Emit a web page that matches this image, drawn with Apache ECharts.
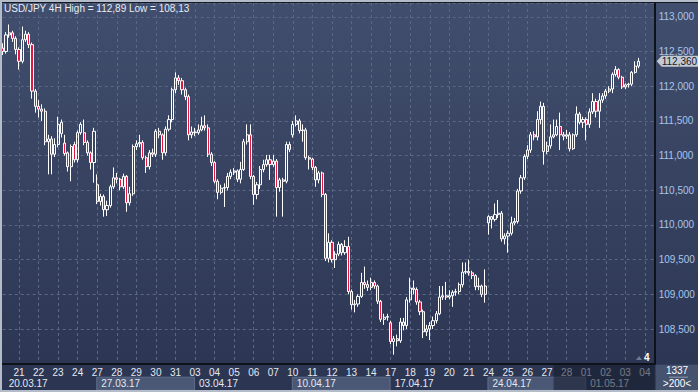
<!DOCTYPE html>
<html><head><meta charset="utf-8">
<script src="https://cdn.jsdelivr.net/npm/echarts@6/dist/echarts.min.js"></script>
<style>html,body{margin:0;padding:0;background:#2c3653;overflow:hidden}#c{width:698px;height:392px}</style>
</head><body><div id="c"></div><script>
// ---- data ----
const days = ['20','21','22','23','24','27','28','29','30','31','03','04','05','06','07','10','11','12','13','14','17','18','19','20','21','24','25','26','27','28','01','02','03','04'];
const weekLabels = ['20.03.17','27.03.17','03.04.17','10.04.17','17.04.17','24.04.17','01.05.17'];
const weekStartDay = [0,5,10,15,20,25,30];
const opens = [112.55,112.50,112.74,112.77,112.69,112.53,112.36,112.67,112.75,112.60,111.93,111.71,111.67,111.64,111.20,111.24,111.02,111.16,111.32,111.18,111.04,110.84,111.16,110.94,111.33,111.33,111.19,111.04,110.90,
110.58,110.34,110.41,110.22,110.28,110.55,110.68,110.66,110.55,110.70,110.32,110.45,111.13,111.17,111.19,110.97,110.84,111.04,111.02,111.35,111.30,111.04,111.38,111.52,111.95,112.12,112.08,111.95,111.85,111.30,
111.34,111.33,111.37,111.43,111.40,111.02,110.90,110.63,110.47,110.53,110.54,110.70,110.76,110.78,110.66,110.80,111.20,111.30,110.70,110.44,110.58,110.80,110.87,110.94,110.87,110.92,110.54,110.65,110.63,111.16,
111.30,111.45,111.50,111.36,111.37,110.97,110.95,110.83,110.65,110.75,110.44,109.52,109.75,109.50,109.58,109.72,109.60,109.69,109.04,108.85,108.86,108.97,109.17,109.14,109.10,109.17,109.12,108.90,108.64,108.67,
108.59,108.32,108.36,108.33,108.60,108.55,108.92,109.09,109.07,108.89,108.75,108.46,108.50,108.55,108.62,108.72,108.96,108.98,108.96,108.98,109.03,109.04,109.14,109.32,109.33,109.31,109.27,109.11,109.12,109.00,
110.03,110.12,110.08,110.15,110.17,109.80,109.84,109.88,110.03,110.05,110.49,110.68,110.99,111.08,111.30,111.27,111.52,111.71,111.06,111.14,111.27,111.30,111.42,111.30,111.28,111.30,111.10,111.30,111.60,111.48,
111.52,111.45,111.63,111.78,111.64,111.80,111.86,111.93,111.96,112.17,112.24,112.13,111.99,112.02,112.03,112.20,112.29];
const closes = [112.50,112.74,112.77,112.69,112.53,112.36,112.67,112.75,112.60,111.93,111.71,111.67,111.64,111.20,111.24,111.02,111.16,111.45,111.48,111.03,110.84,111.13,110.94,111.33,111.45,111.19,111.04,110.90,111.35,
110.34,110.41,110.22,110.28,110.55,110.68,110.66,110.55,110.70,110.32,110.45,111.13,111.17,111.19,110.97,110.84,111.04,111.02,111.35,111.30,111.04,111.38,111.52,111.95,112.12,112.08,111.95,111.85,111.30,111.34,
111.33,111.37,111.43,111.40,111.02,110.90,110.63,110.47,110.53,110.54,110.70,110.76,110.78,110.66,110.80,111.20,111.30,110.70,110.44,110.58,110.80,110.87,110.94,110.87,110.92,110.54,110.65,110.63,111.16,111.09,
111.45,111.50,111.36,111.37,110.97,110.95,110.83,110.65,110.75,110.44,109.52,109.75,109.50,109.58,109.72,109.60,109.69,109.04,108.85,108.86,108.97,109.17,109.14,109.10,109.17,109.12,108.90,108.64,108.67,108.68,
108.32,108.36,108.33,108.60,108.55,108.92,109.09,109.07,108.89,108.75,108.46,108.50,108.55,108.62,108.72,108.96,108.98,108.96,108.98,109.03,109.04,109.14,109.32,109.33,109.31,109.27,109.11,109.12,109.00,109.12,
110.12,110.08,110.15,110.17,109.80,109.84,109.88,110.03,110.05,110.49,110.68,110.99,111.08,111.30,111.27,111.52,111.71,111.06,111.14,111.27,111.30,111.42,111.30,111.28,111.30,111.10,111.30,111.60,111.48,111.52,
111.45,111.63,111.78,111.64,111.80,111.86,111.93,111.96,112.17,112.24,112.13,111.99,112.02,112.03,112.20,112.29,112.36];
const lows = [112.45,112.47,112.70,112.64,112.46,112.24,112.33,112.64,112.55,111.82,111.62,111.55,111.50,111.15,110.73,110.73,110.98,111.12,111.26,111.00,110.77,110.63,110.90,110.90,111.30,111.15,111.00,110.80,110.61,
110.30,110.28,110.12,110.13,110.25,110.52,110.60,110.50,110.52,110.19,110.28,110.42,111.08,111.12,110.94,110.75,110.80,110.98,110.98,111.25,110.94,111.00,111.35,111.48,111.90,112.02,111.88,111.80,111.22,111.25,
111.28,111.30,111.35,111.36,110.98,110.85,110.60,110.37,110.44,110.26,110.50,110.66,110.72,110.62,110.60,110.78,111.16,110.66,110.29,110.37,110.52,110.76,110.84,110.65,110.84,110.12,110.48,110.12,110.60,111.05,
111.26,111.42,111.32,111.20,110.94,110.80,110.79,110.55,110.60,110.40,109.48,109.46,109.46,109.38,109.55,109.56,109.57,109.00,108.78,108.74,108.82,108.95,109.08,109.05,109.06,109.08,108.86,108.60,108.56,108.62,
108.28,108.13,108.25,108.30,108.48,108.50,108.88,109.00,108.85,108.70,108.37,108.40,108.34,108.50,108.58,108.70,108.92,108.92,108.93,108.82,108.98,109.00,109.10,109.29,109.27,109.22,109.06,109.06,108.96,108.88,
109.86,109.95,110.05,110.10,109.76,109.72,109.60,109.85,110.00,110.02,110.45,110.65,110.95,111.04,111.22,111.22,111.45,110.87,111.02,111.10,111.25,111.28,111.08,111.22,111.24,111.06,111.08,111.27,111.45,111.40,
111.22,111.40,111.60,111.55,111.40,111.76,111.82,111.90,111.90,112.14,112.10,111.96,111.96,111.98,112.00,112.18,112.26];
const highs = [112.62,112.78,112.89,112.80,112.72,112.56,112.86,112.80,112.78,112.63,111.96,111.80,111.74,111.68,111.30,111.28,111.25,111.56,111.52,111.30,111.06,111.16,111.20,111.36,111.48,111.52,111.22,111.06,111.40,
110.73,110.45,110.44,110.35,110.58,110.83,110.75,110.68,110.74,110.72,110.55,111.16,111.22,111.30,111.22,111.00,111.08,111.10,111.38,111.40,111.32,111.42,111.58,111.98,112.20,112.16,112.12,111.98,111.88,111.42,
111.40,111.45,111.56,111.58,111.45,111.05,110.92,110.66,110.58,110.60,110.75,110.80,110.82,110.80,110.91,111.24,111.45,111.45,110.72,110.62,110.85,110.94,111.01,111.01,111.01,110.95,110.68,110.68,111.20,111.20,
111.50,111.58,111.53,111.45,111.40,111.00,110.97,110.85,110.78,110.77,110.46,109.88,109.78,109.62,109.76,109.74,109.78,109.83,109.07,108.92,109.00,109.31,109.40,109.20,109.24,109.20,109.14,108.92,108.72,108.72,
108.62,108.40,108.42,108.66,108.66,108.96,109.24,109.20,109.10,108.92,108.78,108.56,108.60,108.68,108.76,109.12,109.12,109.18,109.06,109.06,109.08,109.17,109.46,109.46,109.50,109.34,109.29,109.24,109.14,109.36,
110.14,110.13,110.31,110.36,110.20,109.88,109.92,110.12,110.10,110.52,110.72,111.02,111.15,111.34,111.35,111.64,111.78,111.76,111.20,111.45,111.52,111.52,111.62,111.34,111.37,111.34,111.32,111.71,111.63,111.56,
111.55,111.68,111.90,111.82,111.90,111.90,111.96,112.00,112.20,112.29,112.26,112.15,112.04,112.05,112.22,112.36,112.41];

// ---- build ----
const perDay = 6;
const categories = [];
const nCat = (days.length - 1) * perDay + 3;
for (let k = 0; k < nCat; k++) {
  const d = Math.floor((k + 1) / perDay);
  categories.push(days[Math.min(d, days.length - 1)] + '|' + ((k + 1) % perDay));
}
const isDayStart = i => (i + 1) % perDay === 0;
const candles = opens.map((o, i) => [o, closes[i], lows[i], highs[i]]);
const fmt = (v, n) => v.toFixed(n).replace('.', ',');
const lastClose = closes[closes.length - 1];
const FONT = 'Liberation Sans, Arial, sans-serif';

const chart = echarts.init(document.getElementById('c'), null, {renderer: 'svg', width: 698, height: 392});
const option = {
  animation: false,
  backgroundColor: new echarts.graphic.LinearGradient(0, 0, 0, 1, [
    {offset: 0, color: '#414e6d'}, {offset: 1, color: '#2b3552'}]),
  grid: {left: 2.7, right: 43.3, top: 3, bottom: 28.3, containLabel: false},
  xAxis: {
    type: 'category', data: categories, boundaryGap: false,
    axisLine: {show: true, onZero: false, lineStyle: {color: '#0e121a', width: 2}},
    axisTick: {show: false},
    axisLabel: {
      interval: (i) => isDayStart(i), formatter: v => v.split('|')[0],
      color: '#e4e9f1', fontSize: 10, fontFamily: FONT, margin: 4
    },
    splitLine: {show: true, interval: (i) => isDayStart(i), lineStyle: {color: '#5a6886', type: [3, 3], width: 1}}
  },
  yAxis: {
    type: 'value', position: 'right', min: 108, max: 113.2, interval: 0.5,
    axisLine: {show: true, lineStyle: {color: '#0e121a', width: 2}},
    axisTick: {show: false},
    axisLabel: {
      formatter: v => (v > 108.2 && Math.abs(v * 2 - Math.round(v * 2)) < 1e-6) ? fmt(v, 3) : '',
      color: '#a9c5ec', fontSize: 10, fontFamily: FONT, margin: 4
    },
    splitLine: {show: true, lineStyle: {color: '#5a6886', type: [3, 3], width: 1}}
  },
  series: [{
    type: 'candlestick', data: candles, barWidth: 2.6,
    itemStyle: {color: 'transparent', color0: '#e3173f', borderColor: '#ffffff', borderColor0: '#ffffff', borderWidth: 1}
  }],
  graphic: []
};
chart.setOption(option);

// decorations positioned from the axis scales
const px = k => chart.convertToPixel({xAxisIndex: 0}, k);
const py = v => chart.convertToPixel({yAxisIndex: 0}, v);
const gridL = 2.7, gridR = 698 - 43.3, axisY = 392 - 28.3;
const g = [];
const weekCat = weekStartDay.map(d => d * perDay - 1);
weekCat.forEach((s, i) => {
  const x0 = Math.max(px(Math.max(s, 0)) - 0.5, gridL);
  const x1 = i + 1 < weekCat.length ? px(weekCat[i + 1]) - 0.5 : gridR;
  if (i % 2 === 1 && i < weekCat.length - 1) {
    g.push({type: 'rect', shape: {x: x0, y: axisY + 13.5, width: x1 - x0, height: 13},
      style: {fill: '#4a5876', stroke: '#5f6d8a', lineWidth: 1}, z: 1});
  }
  const tx = s < 0 ? gridL + 6 : px(s) + 4;
  g.push({type: 'text', x: tx, y: axisY + 20, z: 5,
    style: {text: weekLabels[i], fill: '#e4e9f1', font: '10px ' + FONT, textVerticalAlign: 'middle', textAlign: 'left'}});
});
// darker future band
const futX = px(169.4);
g.push({type: 'rect', shape: {x: futX, y: axisY + 1, width: gridR - futX, height: 392 - axisY - 3},
  style: {fill: 'rgba(22,28,44,0.55)'}, z: 20});
// current price tag
const yP = py(lastClose);
g.push({type: 'polygon', shape: {points: [[gridR + 2, yP], [gridR + 7, yP - 5.5], [698, yP - 5.5], [698, yP + 5.5], [gridR + 7, yP + 5.5]]},
  style: {fill: '#c4cad4'}, z: 10});
g.push({type: 'text', x: gridR + 7, y: yP + 0.5, z: 11,
  style: {text: fmt(lastClose, 3), fill: '#151b28', font: '10px ' + FONT, textVerticalAlign: 'middle', textAlign: 'left'}});
// bottom right info box
g.push({type: 'rect', shape: {x: gridR + 1, y: axisY + 1, width: 698 - gridR - 1, height: 392 - axisY - 3}, style: {fill: '#46536f'}, z: 3});
g.push({type: 'text', x: 677, y: axisY + 7, z: 5, style: {text: '1337', fill: '#ffffff', font: '10px ' + FONT, textAlign: 'center', textVerticalAlign: 'middle'}});
g.push({type: 'line', shape: {x1: 669, y1: axisY + 13.5, x2: 688, y2: axisY + 13.5}, style: {stroke: '#8e9ab0', lineWidth: 1}, z: 5});
g.push({type: 'text', x: 677, y: axisY + 20, z: 5, style: {text: '>200<', fill: '#ffffff', font: '10px ' + FONT, textAlign: 'center', textVerticalAlign: 'middle'}});
// small "4" marker
g.push({type: 'polygon', shape: {points: [[636, 360], [642, 360], [639, 356]]}, style: {fill: '#6e7a92'}, z: 5});
g.push({type: 'text', x: 644, y: 357.5, z: 5, style: {text: '4', fill: '#ffffff', font: 'bold 10px ' + FONT, textVerticalAlign: 'middle'}});
// title
const hi = Math.max(...highs), lo = Math.min(...lows);
g.push({type: 'text', x: 4, y: 8.5, z: 10,
  style: {text: 'USD/JPY 4H High = ' + fmt(hi, 2) + ' Low = ' + fmt(lo, 2), fill: '#e8ecf4', font: '10px ' + FONT, textVerticalAlign: 'middle'}});
// frame
g.push({type: 'line', shape: {x1: 0, y1: 1, x2: 698, y2: 1}, style: {stroke: '#b4bcc9', lineWidth: 2}, z: 30});
g.push({type: 'line', shape: {x1: 1, y1: 0, x2: 1, y2: 392}, style: {stroke: '#b4bcc9', lineWidth: 2}, z: 30});
g.push({type: 'line', shape: {x1: 0, y1: 391, x2: 698, y2: 391}, style: {stroke: '#b4bcc9', lineWidth: 2}, z: 30});
g.push({type: 'line', shape: {x1: 2, y1: 2.5, x2: 698, y2: 2.5}, style: {stroke: '#141820', lineWidth: 1}, z: 30});
chart.setOption({graphic: g});
</script></body></html>
